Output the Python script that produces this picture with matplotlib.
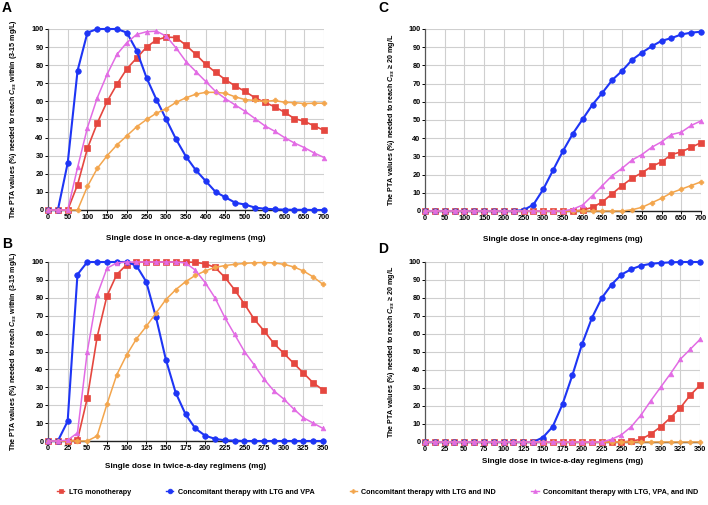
import matplotlib
matplotlib.use("Agg")
import matplotlib.pyplot as plt
import numpy as np

# ---------------- data ----------------
x_once = list(range(0, 701, 25))
x_twice = [i * 12.5 for i in range(29)]

series_names = ["LTG monotherapy",
                "Concomitant therapy with LTG and VPA",
                "Concomitant therapy with LTG and IND",
                "Concomitant therapy with LTG, VPA, and IND"]

# Panel A (once-a-day, 3-15 mg/L)
A_red = [0, 0, 0, 14, 34, 48, 60, 69.5, 78, 84, 90, 94, 95.5, 95.3, 91, 86, 80.5, 76, 72, 68.5, 65.5, 62, 59.5, 57, 54, 50.5, 49, 46.5, 44]
A_blue = [0, 0, 26, 77, 98, 100, 100, 100, 98, 88, 73, 61, 50, 39, 29.5, 22, 16, 10, 7, 4, 3, 1.3, 0.7, 0.4, 0.2, 0.1, 0.1, 0, 0]
A_orange = [0, 0, 0, 0, 13, 23, 30, 36, 41, 46, 50, 53.5, 56, 59.5, 62, 64, 65, 65, 64.5, 62.5, 61, 60.5, 60, 60.5, 59.5, 59.3, 58.8, 59, 59]
A_pink = [0, 0, 0, 23.5, 45.5, 62, 75, 86, 92.5, 97, 98.5, 98.8, 96, 89.5, 82, 76.5, 71, 65.5, 61.5, 58, 54.5, 50.5, 46.5, 43.5, 40, 37, 34.5, 31.5, 29]

# Panel B (twice-a-day, 3-15 mg/L)
B_red = [0, 0, 0, 0.5, 24, 58, 81, 93, 98.5, 99.8, 100, 100, 100, 100, 100, 99.8, 99, 97, 91.5, 84.5, 76.5, 68, 61.5, 54.5, 49, 43.5, 38, 32.5, 28.5]
B_blue = [0, 0, 11, 93, 100, 100, 100, 100, 100, 98, 89, 69, 45.5, 27, 15, 7, 3, 1.2, 0.4, 0.2, 0, 0, 0, 0, 0, 0, 0, 0, 0]
B_orange = [0, 0, 0, 0, 0, 2.8, 20.5, 37, 48, 57, 64, 71.5, 79, 84.5, 89, 92.5, 95, 97, 98, 98.7, 99.2, 99.6, 99.7, 99.5, 98.7, 97.3, 95, 91.7, 87.5]
B_pink = [0, 0, 0.5, 4.5, 50, 81.5, 96.5, 99.5, 100, 100, 100, 100, 100, 100, 99.5, 95.5, 88.5, 80, 69, 59.5, 50, 42.5, 34.5, 28, 23.5, 18, 13, 10, 7]

# Panel C (once-a-day, >= 20 mg/L)
C_red = [0] * 16 + [0.5, 2, 5, 9.5, 14, 18, 21, 24.5, 27, 31, 32.5, 35, 37.5]
C_blue = [0] * 10 + [0.5, 3.5, 12, 22.5, 33, 42.5, 50.5, 58.5, 65, 72, 77, 83, 87, 90.5, 93.5, 95, 97, 98, 98.5]
C_orange = [0] * 21 + [0.7, 2, 4.5, 7, 10, 12, 14, 16]
C_pink = [0] * 15 + [1, 3.3, 8.5, 14, 19.5, 23.5, 28, 31, 35, 38, 42, 43.3, 47, 49.5]

# Panel D (twice-a-day, >= 20 mg/L)
D_red = [0] * 21 + [0.5, 1.5, 4.5, 8.5, 13.5, 19, 26, 31.5]
D_blue = [0] * 12 + [2.5, 8.5, 21, 37, 54.5, 69, 80, 87.5, 93, 96, 98, 99, 99.5, 99.8, 100, 100, 100]
D_orange = [0] * 29
D_pink = [0] * 19 + [1.5, 4, 8.5, 15, 23, 30.5, 38, 46, 51.5, 57]

# ---------------- style ----------------
FAM = "Liberation Sans"
plt.rcParams["font.family"] = [FAM, "DejaVu Sans"]
plt.rcParams["mathtext.fontset"] = "custom"
plt.rcParams["mathtext.it"] = FAM + ":italic:bold"
plt.rcParams["mathtext.rm"] = FAM + ":bold"

colors = ["#E5473F", "#1E35F5", "#F3A54C", "#E26BE4"]
markers = ["s", "o", "P", "^"]
msizes = [4.0, 4.0, 3.4, 3.4]
lwidths = [1.2, 1.5, 1.1, 1.1]

W, H = 708, 505
fig = plt.figure(figsize=(W / 100, H / 100), dpi=100)


def add_ax(l, r, t, b):
    return fig.add_axes([l / W, 1 - b / H, (r - l) / W, (b - t) / H])


def style(ax, xmax, xstep, xlabel, ylabel, ylx, xly):
    ax.set_xlim(0, xmax)
    ax.set_ylim(0, 100)
    ax.set_xticks(np.arange(0, xmax + 0.1, xstep))
    ax.set_yticks(np.arange(0, 101, 10))
    ax.grid(True, color="#cfcfcf", linewidth=0.8)
    ax.set_axisbelow(True)
    for s in ["top", "right"]:
        ax.spines[s].set_visible(False)
    ax.spines["left"].set_color("#555555")
    ax.spines["bottom"].set_color("#222222")
    ax.spines["left"].set_linewidth(0.9)
    ax.spines["bottom"].set_linewidth(1.0)
    ax.tick_params(axis="both", labelsize=5.3, length=2, width=0.7, pad=1.2)
    for lab in ax.get_xticklabels() + ax.get_yticklabels():
        lab.set_fontweight("bold")
    ax.set_xlabel(xlabel, fontsize=5.9, fontweight="bold")
    ax.set_ylabel(ylabel, fontsize=5.1, fontweight="bold")
    ax.yaxis.set_label_coords(ylx, 0.5)
    ax.xaxis.set_label_coords(0.5, xly)


def draw(ax, xs, ys_list):
    order = [2, 0, 3, 1]
    for i in order:
        ax.plot(xs, ys_list[i], color=colors[i], marker=markers[i], markersize=msizes[i],
                linewidth=lwidths[i], markeredgewidth=0.5, markeredgecolor=colors[i],
                clip_on=False, zorder=3 + i)


ylab1 = "The PTA values (%) needed to reach $C_{ss}$ within (3-15 mg/L)"
ylab2 = "The PTA values (%) needed to reach $C_{ss}$ ≥ 20 mg/L"
xl_once = "Single dose in once-a-day regimens (mg)"
xl_twice = "Single dose in twice-a-day regimens (mg)"

axA = add_ax(48, 324, 29, 210)
draw(axA, x_once, [A_red, A_blue, A_orange, A_pink])
style(axA, 700, 50, xl_once, ylab1, -29 / 276, -25 / 181)

axC = add_ax(425, 701, 29, 211)
draw(axC, x_once, [C_red, C_blue, C_orange, C_pink])
style(axC, 700, 50, xl_once, ylab2, -28 / 276, -25 / 182)

axB = add_ax(48, 323, 262, 441)
draw(axB, x_twice, [B_red, B_blue, B_orange, B_pink])
style(axB, 350, 25, xl_twice, ylab1, -29 / 275, -22 / 179)

axD = add_ax(425, 700, 262, 442)
draw(axD, x_twice, [D_red, D_blue, D_orange, D_pink])
style(axD, 350, 25, xl_twice, ylab2, -28 / 275, -16 / 180)

for lbl, px, py in [("A", 2, 8), ("C", 378, 8), ("B", 2, 244), ("D", 378, 249)]:
    fig.text(px / W, 1 - py / H, lbl, fontsize=10, fontweight="bold", va="center", ha="left",
             family="Liberation Sans")

handles = [plt.Line2D([], [], color=colors[i], marker=markers[i], markersize=msizes[i] - 0.6,
                      linewidth=1.0, markeredgewidth=0.5) for i in range(4)]
leg = fig.legend(handles, series_names, loc="center left", bbox_to_anchor=(57 / W, 1 - 492 / H),
                 ncol=4, frameon=False, fontsize=5.2, handlelength=1.0, handletextpad=0.6,
                 columnspacing=4.9, borderaxespad=0, borderpad=0)
for t in leg.get_texts():
    t.set_fontweight("bold")

fig.savefig("out.png", dpi=100)
